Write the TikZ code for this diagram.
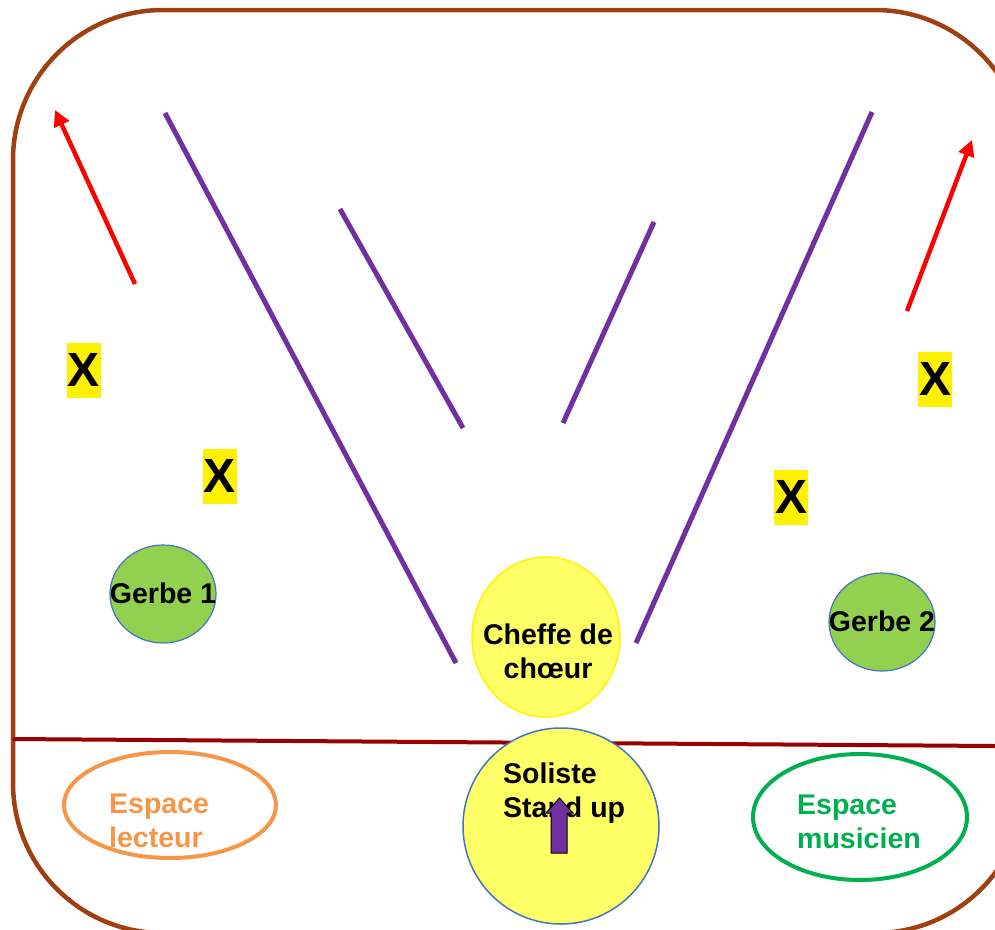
\documentclass[tikz,border=0pt]{standalone}
\usepackage{fontspec}
\setmainfont{Liberation Sans}
\usetikzlibrary{shapes.geometric,arrows.meta}
\definecolor{framebrown}{RGB}{160,64,16}
\definecolor{lineRed}{RGB}{153,0,0}
\definecolor{violetL}{RGB}{112,48,160}
\definecolor{gerbeGreen}{RGB}{146,208,80}
\definecolor{borderBlue}{RGB}{68,114,196}
\definecolor{softYellow}{RGB}{255,255,102}
\definecolor{orangeE}{RGB}{247,150,70}
\definecolor{greenE}{RGB}{0,176,80}
\begin{document}
\begin{tikzpicture}[x=1pt,y=-1pt,
  lbl/.style={font=\fontsize{28.5}{34}\selectfont\bfseries, inner sep=0pt, align=left},
  xmark/.style={fill=yellow, inner sep=0pt, minimum width=34pt, minimum height=55pt, font=\fontsize{48}{50}\selectfont\bfseries},
  gerbe/.style={ellipse, fill=gerbeGreen, draw=borderBlue, line width=1.2pt, inner sep=0pt, minimum width=106pt, minimum height=98pt},
  vline/.style={violetL, line width=5pt},
  redarrow/.style={red, line width=4.5pt, -{Triangle[length=16pt,width=16pt]}},
  espace/.style={ellipse, line width=4pt, inner sep=0pt, fill=white}
]
\useasboundingbox (0,0) rectangle (995,929);
\fill[white] (0,0) rectangle (995,929);
\begin{scope}
\clip (0,0) rectangle (995,929);
\draw[framebrown, line width=4.5pt, rounded corners=150pt] (13,10) rectangle (1025,933);
\end{scope}

% separation line
\coordinate (sepL) at (13,739);
\coordinate (sepR) at (995,746);
\draw[lineRed, line width=4pt] (sepL) -- (sepR);

% purple lines
\coordinate (v1a) at (165,113); \coordinate (v1b) at (456,663);
\coordinate (v2a) at (340,209); \coordinate (v2b) at (463,428);
\coordinate (v3a) at (654,222); \coordinate (v3b) at (563,423);
\coordinate (v4a) at (872,112); \coordinate (v4b) at (636,643);
\draw[vline] (v1a) -- (v1b);
\draw[vline] (v2a) -- (v2b);
\draw[vline] (v3a) -- (v3b);
\draw[vline] (v4a) -- (v4b);

% red arrows
\coordinate (r1s) at (135,284); \coordinate (r1e) at (55,110);
\coordinate (r2s) at (907,311); \coordinate (r2e) at (972,140);
\draw[redarrow] (r1s) -- (r1e);
\draw[redarrow] (r2s) -- (r2e);

% X marks
\node[xmark] (x1) at (84,370) {X};
\node[xmark] (x2) at (220,476) {X};
\node[xmark] (x3) at (935,379) {X};
\node[xmark] (x4) at (791,497) {X};

% gerbes
\node[gerbe] (g1) at (163,594) {};
\node[lbl] (g1t) at (163,593) {Gerbe 1};
\node[gerbe] (g2) at (882,622) {};
\node[lbl] (g2t) at (882,621) {Gerbe 2};

% cheffe de choeur
\node[ellipse, fill=softYellow, draw=yellow, line width=1.5pt, inner sep=0pt, minimum width=148pt, minimum height=160pt] (chef) at (546,637) {};
\node[lbl, align=center, anchor=base] (cheft) at (548,678) {Cheffe de\\chœur};

% soliste
\node[circle, fill=softYellow, draw=borderBlue, line width=1.5pt, inner sep=0pt, minimum size=196pt] (sol) at (561,826) {};
\node[lbl, anchor=base west] (solt) at (503,817) {Soliste\\Stand up};
\draw[fill=violetL, draw=black, line width=1pt]
  (559.5,798) -- (573,813) -- (567,813) -- (567,853) -- (551,853) -- (551,813) -- (546,813) -- cycle;

% espaces
\node[espace, draw=orangeE, minimum width=212pt, minimum height=106pt] (lect) at (170,805) {};
\node[lbl, text=orangeE, anchor=base west] (lectt) at (109,847) {Espace\\lecteur};
\node[espace, draw=greenE, minimum width=214pt, minimum height=126pt] (mus) at (860,817) {};
\node[lbl, text=greenE, anchor=base west] (must) at (797,848) {Espace\\musicien};
\end{tikzpicture}
\end{document}
